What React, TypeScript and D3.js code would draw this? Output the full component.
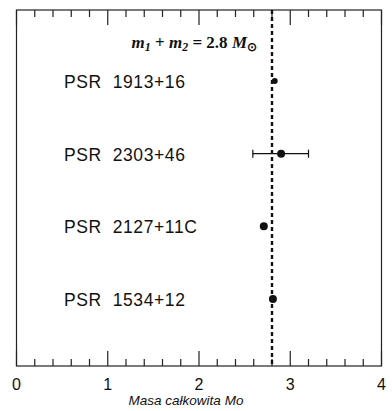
import React from 'react'
import * as d3 from 'd3'

const width = 392
const height = 411

const pulsars = ['PSR 1913+16', 'PSR 2303+46', 'PSR 2127+11C', 'PSR 1534+12']
const masses = [2.83, 2.9, 2.71, 2.81]
const errLow = [null, 2.59, null, null]
const errHigh = [null, 3.2, null, null]
const xTicks = [0, 1, 2, 3, 4]
const refMass = 2.8

const x = d3.scaleLinear().domain([0, 4]).range([16.5, 381.5])
const y = d3.scalePoint().domain(pulsars).range([81, 299])

const top = 10
const bottom = 366

export default function App() {
  const minor = d3.range(0, 4.001, 0.2)
  return (
    <div style={{ position: 'absolute', left: 0, top: 0 }}>
      <svg width={width} height={height}>
        <rect x={x(0)} y={top} width={x(4) - x(0)} height={bottom - top} fill="none" stroke="#222" strokeWidth={1.2} />
        {minor.map((t, i) => {
          const major = Math.abs(t - Math.round(t)) < 1e-6
          const len = major ? 15 : 7
          return (
            <g key={i} stroke="#222" strokeWidth={1.2}>
              <line x1={x(t)} x2={x(t)} y1={top} y2={top + len} />
              <line x1={x(t)} x2={x(t)} y1={bottom} y2={bottom - len} />
            </g>
          )
        })}
        <line x1={x(refMass)} x2={x(refMass)} y1={top} y2={bottom} stroke="#111" strokeWidth={2.4} strokeDasharray="4,3" />
        <text x={257} y={48} textAnchor="end" fontFamily="Liberation Serif" fontStyle="italic" fontWeight="bold" fontSize={17} fill="#111">
          m<tspan fontSize={12} dy={3}>1</tspan>
          <tspan dy={-3} fontStyle="normal"> + </tspan>
          <tspan>m</tspan>
          <tspan fontSize={12} dy={3}>2</tspan>
          <tspan dy={-3} fontStyle="normal"> = 2.8 </tspan>
          <tspan>M</tspan>
          <tspan fontSize={12} dy={3} fontStyle="normal">⊙</tspan>
        </text>
        {pulsars.map((p, i) => (
          <g key={p}>
            <text x={64} y={(y(p) ?? 0) + 7} fontFamily="Liberation Sans" fontSize={17.5} letterSpacing={0.6} fill="#111">
              {p.replace(' ', '\u00a0\u00a0')}
            </text>
            {errLow[i] != null && (
              <g stroke="#111" strokeWidth={1.2}>
                <line x1={x(errLow[i] as number)} x2={x(errHigh[i] as number)} y1={y(p)} y2={y(p)} />
                <line x1={x(errLow[i] as number)} x2={x(errLow[i] as number)} y1={(y(p) ?? 0) - 4} y2={(y(p) ?? 0) + 4} />
                <line x1={x(errHigh[i] as number)} x2={x(errHigh[i] as number)} y1={(y(p) ?? 0) - 4} y2={(y(p) ?? 0) + 4} />
              </g>
            )}
            <circle cx={x(masses[i])} cy={y(p)} r={i === 0 ? 3 : 4} fill="#111" />
          </g>
        ))}
        {xTicks.map((t) => (
          <text key={t} x={x(t)} y={390} textAnchor="middle" fontFamily="Liberation Sans" fontSize={16} fill="#111">
            {t}
          </text>
        ))}
        <text x={186} y={405} textAnchor="middle" fontFamily="Liberation Sans" fontStyle="italic" fontSize={13.5} fill="#111">
          Masa całkowita Mo
        </text>
      </svg>
    </div>
  )
}
